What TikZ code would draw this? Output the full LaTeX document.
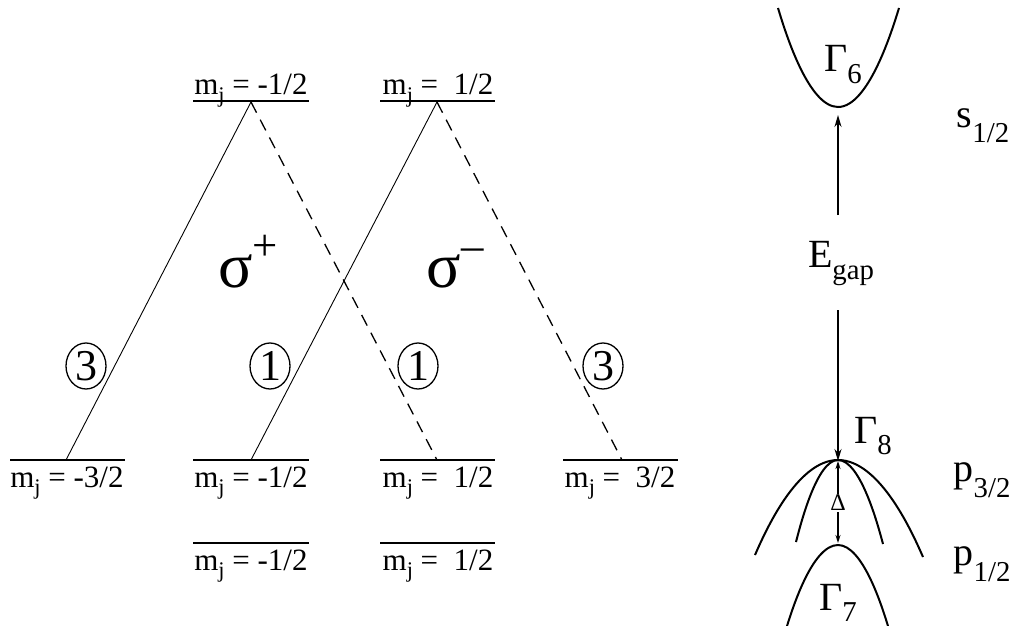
\documentclass[tikz,border=0pt]{standalone}
\usepackage{fontspec}
\usepackage{graphicx}
\setmainfont{Liberation Serif}
\usetikzlibrary{arrows.meta,shapes.geometric}
\newcommand\dn[2][0.3em]{\raisebox{-#1}{\scalebox{0.72}{#2}}}
\newcommand\up[1]{\raisebox{0.42em}{\scalebox{0.7}{#1}}}
\begin{document}
\begin{tikzpicture}[x=1pt,y=-1pt,
  level/.style={line width=1.1pt},
  trans/.style={line width=0.9pt},
  transd/.style={line width=1.3pt, dash pattern=on 12pt off 8pt},
  lbl/.style={font=\fontsize{31}{34}\selectfont, inner sep=0pt},
  circnum/.style={draw, ellipse, line width=1.3pt, inner sep=0pt, minimum width=40pt, minimum height=46pt, font=\fontsize{44}{46}\selectfont},
  sig/.style={font=\fontsize{64}{66}\selectfont, inner sep=0pt},
  big/.style={font=\fontsize{40}{42}\selectfont, inner sep=0pt},
  band/.style={line width=2pt},
  arr/.style={line width=1.6pt, -{Stealth[length=12pt,width=7pt]}},
  sarr/.style={line width=1.4pt, -{Stealth[length=8pt,width=5pt]}}
]
\useasboundingbox (0,0) rectangle (1015,626);
% levels
\draw[level] (193,101) -- (309,101);
\draw[level] (380,101) -- (495,101);
\draw[level] (10,460) -- (125,460);
\draw[level] (193,460) -- (309,460);
\draw[level] (380,460) -- (495,460);
\draw[level] (563,460) -- (678,460);
\draw[level] (193,543) -- (309,543);
\draw[level] (380,543) -- (495,543);
% level labels
\node[lbl, anchor=base] (lt1) at (251,95) {m\dn[0.25em]{j} = -1/2};
\node[lbl, anchor=base] (lt2) at (438,95) {m\dn[0.25em]{j} = \ 1/2};
\node[lbl, anchor=base] (lb1) at (67,487) {m\dn[0.25em]{j} = -3/2};
\node[lbl, anchor=base] (lb2) at (251,487) {m\dn[0.25em]{j} = -1/2};
\node[lbl, anchor=base] (lb3) at (438,487) {m\dn[0.25em]{j} = \ 1/2};
\node[lbl, anchor=base] (lb4) at (620,487) {m\dn[0.25em]{j} = \ 3/2};
\node[lbl, anchor=base] (ll1) at (251,570) {m\dn[0.25em]{j} = -1/2};
\node[lbl, anchor=base] (ll2) at (438,570) {m\dn[0.25em]{j} = \ 1/2};
% transition end points
\coordinate (t1) at (251,102);
\coordinate (t2) at (437,102);
\coordinate (b1) at (66,460);
\coordinate (b2) at (251,460);
\coordinate (b3) at (437,460);
\coordinate (b4) at (622,460);
\draw[trans] (t1) -- (b1);
\draw[trans] (t2) -- (b2);
\draw[transd] (t1) -- (b3);
\draw[transd] (t2) -- (b4);
% weights
\node[circnum] (c1) at (86,366) {3};
\node[circnum] (c2) at (270,366) {1};
\node[circnum] (c3) at (418,366) {1};
\node[circnum] (c4) at (603,366) {3};
% sigma labels
\node[sig, anchor=base] (sp) at (248,287) {σ\up{+}};
\node[sig, anchor=base] (sm) at (455,287) {σ\up{–}};
% right side bands
\draw[band] (778,8) parabola bend (838,107) (899,8);
\draw[band] (755,555) parabola bend (838,460) (923,557);
\draw[band] (796,542) parabola bend (838,460) (883,544);
\draw[band] (787,626) parabola bend (838,545) (888,626);
\node[big, anchor=base] (g6) at (843,72) {Γ\dn[0.28em]{6}};
\node[big, anchor=base] (g8) at (873,443) {Γ\dn[0.28em]{8}};
\node[big, anchor=base] (g7) at (838,610) {Γ\dn[0.28em]{7}};
\node[big, anchor=base] (s12) at (983,127) {s\dn[0.4em]{1/2}};
\node[big, anchor=base] (p32) at (982,481) {p\dn[0.4em]{3/2}};
\node[big, anchor=base] (p12) at (982,565) {p\dn[0.4em]{1/2}};
\node[big, anchor=base] (eg) at (841,267) {E\dn[0.3em]{gap}};
\coordinate (v6) at (838,115);
\coordinate (v8) at (838,461);
\coordinate (v7) at (838,543);
\node[font=\fontsize{24}{26}\selectfont, inner sep=1pt] (dl) at (838,503) {Δ};
\draw[arr] (838,215) -- (v6);
\draw[arr] (838,310) -- (v8);
\draw[sarr] (dl.north) -- (v8);
\draw[sarr] (dl.south) -- (v7);
\end{tikzpicture}
\end{document}
